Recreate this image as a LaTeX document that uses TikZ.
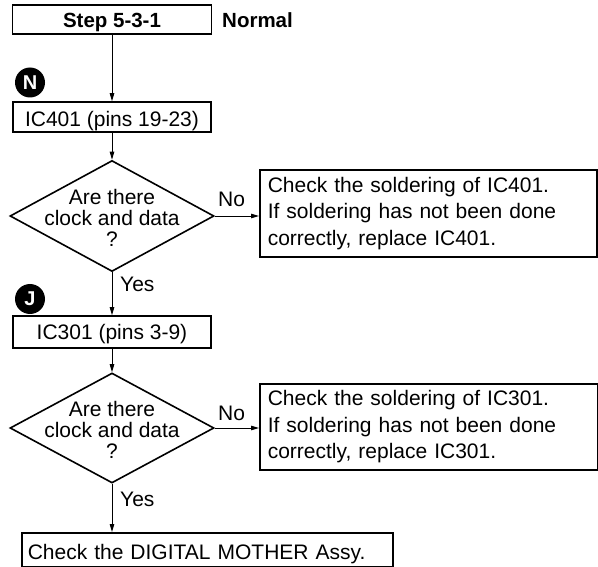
\documentclass[tikz,border=0pt]{standalone}
\usepackage{fontspec}
\setmainfont{Liberation Sans}
\usetikzlibrary{shapes.geometric,arrows.meta}
\begin{document}
\begin{tikzpicture}[x=1pt,y=-1pt,
  box/.style={draw, line width=1.6pt, inner sep=0pt, font=\fontsize{21}{26.5}\selectfont},
  arr/.style={line width=0.9pt, -{Triangle[length=8pt,width=4.5pt]}},
  dia/.style={draw, shape=diamond, line width=1.6pt, inner sep=0pt},
  badge/.style={circle, fill=black, text=white, inner sep=0pt, minimum size=30pt, font=\bfseries\fontsize{20}{20}\selectfont},
  lbl/.style={font=\fontsize{21}{21}\selectfont, inner sep=0pt},
  boldlbl/.style={font=\bfseries\fontsize{20.5}{20.5}\selectfont, inner sep=0pt}
]
\useasboundingbox (0,0) rectangle (598,567);

\node[box, boldlbl, draw, line width=1.6pt, minimum width=199pt, minimum height=29pt, text height=17pt, text depth=0pt] (step) at (112,19.5) {Step 5-3-1};
\node[boldlbl, anchor=base west] (normal) at (222,28) {Normal};

\node[badge] (n) at (30,82.5) {N};
\node[box, minimum width=198pt, minimum height=30pt, text height=20pt, text depth=0pt] (ic401) at (112,117) {IC401 (pins 19-23)};

\node[dia, minimum width=204pt, minimum height=111pt] (d1) at (112,216) {};
\node[lbl, align=center] (q1) at (112,217.5) {Are there\\clock and data\\?};
\node[box, anchor=west, minimum width=337pt, minimum height=87pt, text width=321pt, inner xsep=8pt, align=left] (c1) at (259,213.5) {Check the soldering of IC401.\\If soldering has not been done\\correctly, replace IC401.};
\node[lbl, anchor=base west] (no1) at (218,207) {No};
\node[lbl, anchor=base west] (yes1) at (120,292) {Yes};

\node[badge] (j) at (30,299) {J};
\node[box, minimum width=198pt, minimum height=32pt, text height=16pt, text depth=0pt] (ic301) at (112,332) {IC301 (pins 3-9)};

\node[dia, minimum width=204pt, minimum height=110pt] (d2) at (112,428) {};
\node[lbl, align=center] (q2) at (112,429.5) {Are there\\clock and data\\?};
\node[box, anchor=west, minimum width=338pt, minimum height=86pt, text width=322pt, inner xsep=8pt, align=left] (c2) at (259,427) {Check the soldering of IC301.\\If soldering has not been done\\correctly, replace IC301.};
\node[lbl, anchor=base west] (no2) at (218,420) {No};
\node[lbl, anchor=base west] (yes2) at (120,506) {Yes};

\node[box, anchor=north west, minimum width=371pt, minimum height=34pt, text width=359pt, inner xsep=6pt, align=left, text height=20pt, text depth=0pt] (fin) at (21,532) {Check the DIGITAL MOTHER Assy.};

\draw[arr] (step.south) -- (step.south |- ic401.north);
\draw[arr] (ic401.south) -- (d1.north);
\draw[arr] (d1.east) -- (d1.east -| c1.west);
\draw[arr] (d1.south) -- (d1.south |- ic301.north);
\draw[arr] (ic301.south) -- (d2.north);
\draw[arr] (d2.east) -- (d2.east -| c2.west);
\draw[arr] (d2.south) -- (d2.south |- fin.north);
\end{tikzpicture}
\end{document}
